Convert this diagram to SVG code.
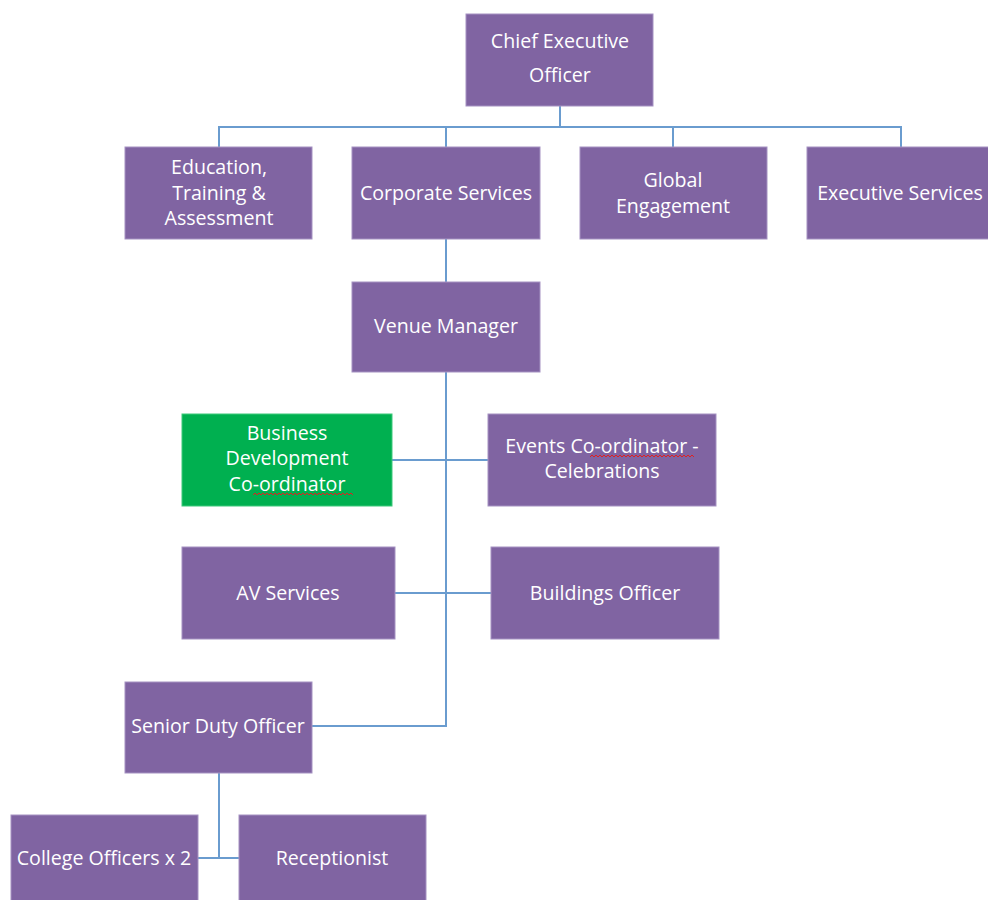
<svg xmlns="http://www.w3.org/2000/svg" width="988" height="900" viewBox="0 0 988 900">
<style>
.box{fill:#8064a2;stroke:#a592c2;stroke-width:1}
.green{fill:#00b050;stroke:#3cc97a;stroke-width:1}
.t{fill:#ffffff;font-family:"Open Sans","Liberation Sans",sans-serif;font-size:19.6px;text-anchor:middle;dominant-baseline:central}
.c{fill:none;stroke:#6a9ccf;stroke-width:2}
.sq{fill:none;stroke:#e02020;stroke-width:1}
</style>
<rect width="988" height="900" fill="#ffffff"/>
<g id="connectors">
<path class="c" d="M560 106V127M219 147V127H901V147M446 127V147M673 127V147"/>
<path class="c" d="M446 239V282"/>
<path class="c" d="M446 372V726H312"/>
<path class="c" d="M392 460H488"/>
<path class="c" d="M395 593H491"/>
<path class="c" d="M219 773V858M198 858H239"/>
</g>
<g id="ceo"><rect class="box" x="466" y="14" width="187" height="92"/><text class="t" x="560" y="40">Chief Executive</text><text class="t" x="560" y="74">Officer</text></g>
<g id="education"><rect class="box" x="125" y="147" width="187" height="92"/><text class="t" x="219" y="166">Education,</text><text class="t" x="219" y="192">Training &amp;</text><text class="t" x="219" y="217">Assessment</text></g>
<g id="corporate"><rect class="box" x="352" y="147" width="188" height="92"/><text class="t" x="446" y="192">Corporate Services</text></g>
<g id="global"><rect class="box" x="580" y="147" width="187" height="92"/><text class="t" x="673" y="179">Global</text><text class="t" x="673" y="205">Engagement</text></g>
<g id="executive"><rect class="box" x="807" y="147" width="187" height="92"/><text class="t" x="900" y="192">Executive Services</text></g>
<g id="venue"><rect class="box" x="352" y="282" width="188" height="90"/><text class="t" x="446" y="325">Venue Manager</text></g>
<g id="business"><rect class="green" x="182" y="414" width="210" height="92"/><text class="t" x="287" y="432">Business</text><text class="t" x="287" y="457">Development</text><text class="t" x="287" y="483">Co-ordinator</text><path class="sq" d="M253 495l2-2 2 2 2-2 2 2 2-2 2 2 2-2 2 2 2-2 2 2 2-2 2 2 2-2 2 2 2-2 2 2 2-2 2 2 2-2 2 2 2-2 2 2 2-2 2 2 2-2 2 2 2-2 2 2 2-2 2 2 2-2 2 2 2-2 2 2 2-2 2 2 2-2 2 2 2-2 2 2 2-2 2 2 2-2 2 2 2-2 2 2 2-2 2 2 2-2 2 2"/></g>
<g id="events"><rect class="box" x="488" y="414" width="228" height="92"/><text class="t" x="602" y="445">Events Co-ordinator -</text><text class="t" x="602" y="470">Celebrations</text><path class="sq" d="M590 457l2-2 2 2 2-2 2 2 2-2 2 2 2-2 2 2 2-2 2 2 2-2 2 2 2-2 2 2 2-2 2 2 2-2 2 2 2-2 2 2 2-2 2 2 2-2 2 2 2-2 2 2 2-2 2 2 2-2 2 2 2-2 2 2 2-2 2 2 2-2 2 2 2-2 2 2 2-2 2 2 2-2 2 2 2-2 2 2 2-2 2 2 2-2 2 2 2-2 2 2 2-2 2 2"/></g>
<g id="av"><rect class="box" x="182" y="547" width="213" height="92"/><text class="t" x="288" y="592">AV Services</text></g>
<g id="buildings"><rect class="box" x="491" y="547" width="228" height="92"/><text class="t" x="605" y="592">Buildings Officer</text></g>
<g id="senior"><rect class="box" x="125" y="682" width="187" height="91"/><text class="t" x="218" y="725">Senior Duty Officer</text></g>
<g id="college"><rect class="box" x="11" y="815" width="187" height="90"/><text class="t" x="104" y="857">College Officers x 2</text></g>
<g id="receptionist"><rect class="box" x="239" y="815" width="187" height="90"/><text class="t" x="332" y="857">Receptionist</text></g>
</svg>
